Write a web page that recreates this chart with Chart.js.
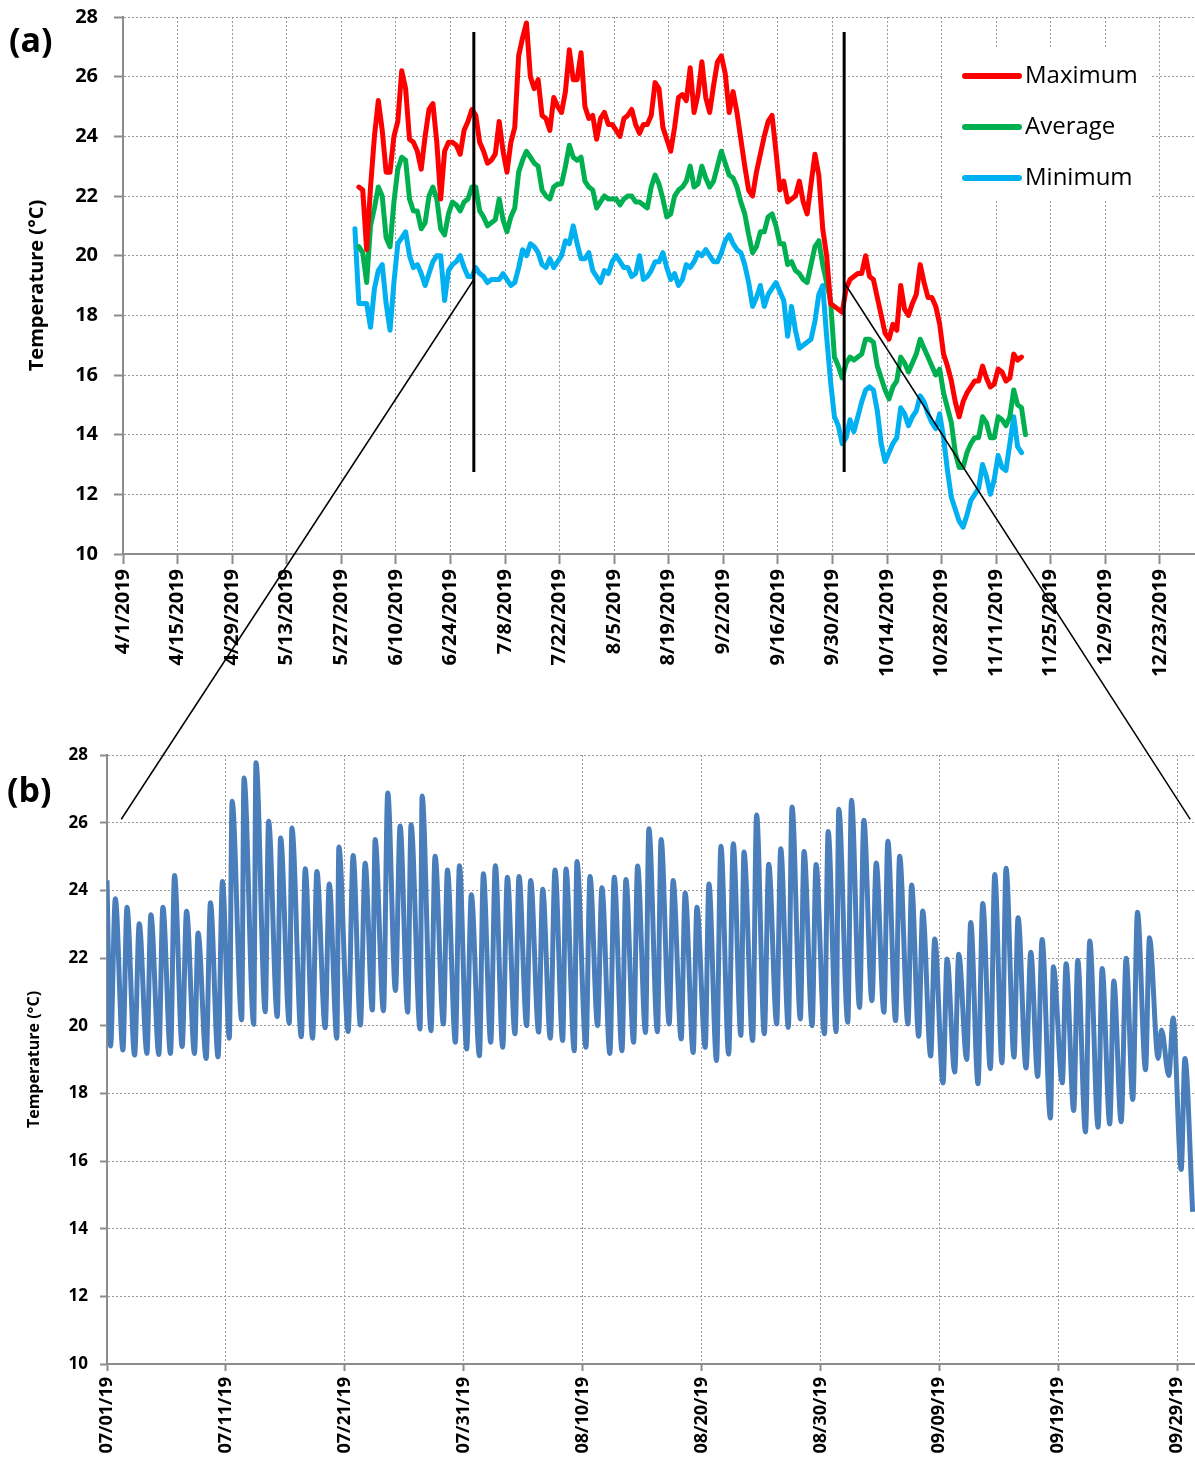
<!DOCTYPE html>
<html>
<head>
<meta charset="utf-8">
<title>Temperature</title>
<script src="https://cdn.jsdelivr.net/npm/chart.js@4.4.1/dist/chart.umd.min.js"></script>
<style>
  html, body { margin: 0; padding: 0; background: #fff; }
  #wrap { position: relative; width: 1195px; height: 1463px; }
  #chartA { position: absolute; left: 0; top: 0; }
  #chartB { position: absolute; left: 0; top: 720px; }
  #overlay { position: absolute; left: 0; top: 0; pointer-events: none; }
</style>
</head>
<body>
<div id="wrap">
  <canvas id="chartA" width="1195" height="720"></canvas>
  <canvas id="chartB" width="1195" height="743"></canvas>
  <canvas id="overlay" width="1195" height="1463"></canvas>
</div>
<script>
// Daily water temperature, one value per day starting at the given date
var maxFirstDay = '5/31/2019';
var dailyMax = [
  22.3, 22.2, 20.2, 22.3, 24.0, 25.2, 24.2, 22.8, 22.8, 24.0,
  24.5, 26.2, 25.6, 23.9, 23.8, 23.5, 22.9, 24.0, 24.9, 25.1,
  23.8, 21.9, 23.5, 23.8, 23.8, 23.7, 23.4, 24.2, 24.5, 24.9,
  24.7, 23.8, 23.5, 23.1, 23.2, 23.4, 24.5, 23.5, 22.8, 23.8,
  24.3, 26.7, 27.3, 27.8, 26.0, 25.6, 25.9, 24.7, 24.6, 24.2,
  25.3, 25.0, 24.8, 25.5, 26.9, 25.9, 25.9, 26.8, 25.0, 24.6,
  24.7, 23.9, 24.6, 24.8, 24.4, 24.4, 24.2, 24.0, 24.6, 24.7,
  24.9, 24.4, 24.1, 24.4, 24.4, 24.7, 25.8, 25.6, 24.3, 23.9,
  23.5, 24.3, 25.3, 25.4, 25.2, 26.3, 24.8, 25.4, 26.5, 25.3,
  24.8, 25.7, 26.5, 26.7, 26.1, 24.8, 25.5, 24.8, 23.9, 23.0,
  22.2, 22.0, 22.8, 23.4, 24.0, 24.5, 24.7, 23.5, 22.2, 22.5,
  21.8, 21.9, 22.0, 22.5, 21.8, 21.4, 22.4, 23.4, 22.7, 20.9,
  20.0, 18.4, 18.3, 18.2, 18.1, 18.9, 19.2, 19.3, 19.4, 19.4,
  20.0, 19.3, 19.2, 18.6, 18.0, 17.4, 17.2, 17.7, 17.5, 19.0,
  18.2, 18.0, 18.4, 18.7, 19.7, 19.1, 18.6, 18.6, 18.3, 17.7,
  16.7, 16.3, 15.8, 15.1, 14.6, 15.1, 15.4, 15.6, 15.8, 15.8,
  16.3, 15.9, 15.6, 15.7, 16.2, 16.1, 15.8, 15.9, 16.7, 16.5, 16.6
];

var avgFirstDay = '5/31/2019';
var dailyAvg = [
  20.3, 20.1, 19.1, 21.0, 21.6, 22.3, 22.0, 20.6, 20.3, 21.8,
  22.9, 23.3, 23.2, 21.9, 21.5, 21.5, 20.9, 21.1, 22.0, 22.3,
  21.9, 20.9, 20.7, 21.4, 21.8, 21.7, 21.5, 21.8, 21.9, 22.3,
  22.3, 21.5, 21.3, 21.0, 21.1, 21.2, 21.9, 21.2, 20.8, 21.3,
  21.6, 22.8, 23.2, 23.5, 23.3, 23.1, 23.0, 22.2, 22.0, 21.9,
  22.3, 22.4, 22.4, 23.0, 23.7, 23.3, 23.2, 23.3, 22.5, 22.3,
  22.2, 21.6, 21.8, 22.0, 21.9, 21.9, 21.9, 21.7, 21.9, 22.0,
  22.0, 21.8, 21.8, 21.7, 21.6, 22.3, 22.7, 22.4, 21.9, 21.3,
  21.4, 22.0, 22.2, 22.3, 22.5, 23.0, 22.3, 22.4, 23.0, 22.6,
  22.3, 22.5, 23.0, 23.5, 23.1, 22.7, 22.6, 22.3, 21.8, 21.4,
  20.7, 20.1, 20.3, 20.8, 20.8, 21.3, 21.4, 21.0, 20.4, 20.4,
  19.7, 19.8, 19.5, 19.4, 19.2, 19.1, 19.7, 20.3, 20.5, 19.7,
  19.1, 18.5, 16.6, 16.3, 15.9, 16.4, 16.6, 16.5, 16.6, 16.7,
  17.2, 17.2, 17.1, 16.3, 15.9, 15.5, 15.2, 15.6, 15.8, 16.6,
  16.4, 16.1, 16.4, 16.7, 17.2, 16.9, 16.6, 16.3, 16.0, 16.2,
  15.4, 14.9, 14.4, 13.4, 12.9, 12.9, 13.4, 13.7, 13.9, 13.9,
  14.6, 14.4, 13.9, 13.9, 14.6, 14.5, 14.3, 14.6, 15.5, 15.0, 14.9, 14.0
];

var minFirstDay = '5/30/2019';
var dailyMin = [
  20.9,
  18.4, 18.4, 18.4, 17.6, 18.9, 19.5, 19.7, 18.4, 17.5, 19.1,
  20.4, 20.6, 20.8, 20.0, 19.6, 19.7, 19.4, 19.0, 19.4, 19.8,
  20.0, 20.0, 18.5, 19.5, 19.7, 19.8, 20.0, 19.6, 19.3, 19.3,
  19.6, 19.4, 19.3, 19.1, 19.2, 19.2, 19.2, 19.4, 19.2, 19.0,
  19.1, 19.6, 20.2, 20.0, 20.4, 20.3, 20.1, 19.7, 19.6, 19.9,
  19.6, 19.8, 20.0, 20.5, 20.4, 21.0, 20.4, 19.9, 19.9, 20.1,
  19.5, 19.3, 19.1, 19.5, 19.4, 19.8, 20.0, 19.8, 19.6, 19.6,
  19.3, 19.4, 20.0, 19.2, 19.3, 19.5, 19.8, 19.8, 20.1, 19.6,
  19.2, 19.4, 19.0, 19.2, 19.7, 19.6, 19.8, 20.1, 20.0, 20.2,
  20.0, 19.8, 19.8, 20.1, 20.5, 20.7, 20.4, 20.2, 20.1, 19.7,
  19.1, 18.3, 18.6, 19.0, 18.3, 18.7, 18.9, 19.1, 18.8, 18.5,
  17.3, 18.3, 17.5, 16.9, 17.0, 17.1, 17.2, 17.8, 18.7, 19.0,
  17.3, 15.8, 14.6, 14.3, 13.7, 13.9, 14.5, 14.1, 14.6, 15.1,
  15.5, 15.6, 15.5, 14.8, 13.7, 13.1, 13.4, 13.7, 13.9, 14.9,
  14.7, 14.3, 14.6, 14.8, 15.3, 15.1, 14.7, 14.4, 14.2, 14.7,
  13.9, 12.8, 11.9, 11.5, 11.1, 10.9, 11.3, 11.8, 12.0, 12.2,
  13.0, 12.6, 12.0, 12.5, 13.3, 12.9, 12.8, 13.7, 14.6, 13.6, 13.4
];

// Hourly record, July to September: [days since 07/01/19, temperature]
var hourlyReadings = [
  [0.0, 24.3], [0.3, 19.4], [0.7, 23.75], [1.34, 19.28], [1.68, 23.5], [2.32, 19.13],
  [2.71, 23.01], [3.36, 19.18], [3.69, 23.28], [4.36, 19.15], [4.7, 23.5], [5.34, 19.18],
  [5.68, 24.44], [6.32, 19.38], [6.69, 23.38], [7.36, 19.18], [7.66, 22.74], [8.34, 19.03],
  [8.7, 23.63], [9.34, 19.08], [9.71, 24.26], [10.29, 19.63], [10.52, 26.63], [11.33, 20.17],
  [11.52, 27.32], [12.34, 20.04], [12.53, 27.77], [13.31, 20.41], [13.59, 26.04], [14.32, 20.27],
  [14.6, 25.55], [15.33, 20.07], [15.55, 25.84], [16.34, 19.67], [16.67, 24.64], [17.29, 19.63],
  [17.65, 24.56], [18.35, 19.94], [18.69, 24.19], [19.33, 19.63], [19.5, 25.28], [20.28, 19.83],
  [20.7, 25.03], [21.31, 20.02], [21.71, 24.8], [22.32, 20.46], [22.55, 25.5], [23.25, 20.44],
  [23.61, 26.88], [24.26, 21.04], [24.65, 25.9], [25.29, 20.4], [25.57, 25.94], [26.33, 19.9],
  [26.5, 26.79], [27.25, 19.85], [27.59, 25.01], [28.29, 20.05], [28.63, 24.6], [29.3, 19.51],
  [29.64, 24.73], [30.25, 19.31], [30.64, 23.87], [31.32, 19.11], [31.65, 24.49], [32.27, 19.51],
  [32.66, 24.73], [33.28, 19.36], [33.67, 24.39], [34.31, 19.76], [34.65, 24.41], [35.29, 20.0],
  [35.63, 24.29], [36.3, 19.81], [36.64, 24.03], [37.28, 19.63], [37.68, 24.6], [38.32, 19.56],
  [38.6, 24.63], [39.3, 19.26], [39.52, 24.85], [40.28, 19.36], [40.62, 24.41], [41.26, 20.0],
  [41.62, 24.08], [42.29, 19.18], [42.66, 24.39], [43.31, 19.26], [43.64, 24.32], [44.29, 19.51],
  [44.62, 24.72], [45.29, 19.8], [45.57, 25.82], [46.29, 19.82], [46.6, 25.5], [47.28, 20.05],
  [47.61, 24.29], [48.29, 19.61], [48.62, 23.92], [49.3, 19.21], [49.61, 23.5], [50.31, 19.36],
  [50.62, 24.19], [51.26, 18.97], [51.63, 25.3], [52.28, 19.16], [52.67, 25.38], [53.31, 19.71],
  [53.57, 25.13], [54.3, 19.56], [54.63, 26.23], [55.28, 19.76], [55.65, 24.77], [56.32, 20.05],
  [56.66, 25.23], [57.3, 19.95], [57.61, 26.46], [58.31, 20.2], [58.62, 25.15], [59.3, 20.0],
  [59.63, 24.76], [60.34, 19.76], [60.65, 25.74], [61.32, 19.82], [61.54, 26.4], [62.3, 20.1],
  [62.61, 26.66], [63.29, 20.54], [63.65, 26.07], [64.33, 20.74], [64.69, 24.81], [65.34, 20.4],
  [65.67, 25.45], [66.32, 20.15], [66.66, 25.01], [67.36, 20.05], [67.67, 24.16], [68.26, 19.69],
  [68.6, 23.39], [69.27, 19.1], [69.61, 22.56], [70.31, 18.31], [70.65, 21.97], [71.29, 18.63],
  [71.63, 22.11], [72.3, 19.0], [72.64, 23.05], [73.25, 18.28], [73.65, 23.61], [74.29, 18.73],
  [74.66, 24.47], [75.27, 18.9], [75.61, 24.65], [76.28, 19.07], [76.62, 23.19], [77.29, 18.75],
  [77.69, 22.17], [78.27, 18.5], [78.64, 22.55], [79.34, 17.27], [79.59, 21.74], [80.34, 18.31],
  [80.66, 21.83], [81.3, 17.49], [81.64, 21.93], [82.29, 16.86], [82.65, 22.5], [83.35, 17.0],
  [83.69, 21.69], [84.33, 17.1], [84.67, 21.32], [85.29, 17.16], [85.71, 21.99], [86.27, 17.82],
  [86.66, 23.35], [87.34, 18.7], [87.67, 22.6], [88.4, 19.03], [88.68, 19.87], [89.3, 18.53],
  [89.66, 20.23], [90.34, 15.75], [90.65, 19.03], [91.3, 14.5]
];

var seriesNames = ['Maximum', 'Average', 'Minimum'];
var seriesColors = ['#ff0000', '#00b050', '#00b0f0'];

// period covered by the hourly panel, marked on the daily panel
var windowDates = ['6/30/2019', '10/3/2019'];

var seasonStart = new Date(2019, 3, 1);

function dayOffset(str) {
  var p = str.split('/').map(Number);
  return Math.round((new Date(p[2], p[0] - 1, p[1]) - seasonStart) / 86400000);
}

function dailyPoints(firstDay, values) {
  var start = dayOffset(firstDay);
  return values.map(function(v, i) { return { x: start + i + 0.5, y: v }; });
}

function pad2(n) { return (n < 10 ? '0' : '') + n; }

// keep the plot area flush with the canvas edges
function noEdgePadding(s) {
  s.paddingLeft = 0; s.paddingRight = 0; s.paddingTop = 0; s.paddingBottom = 0;
}

var gridGray = '#9b9b9b';
var axisGray = '#8c8c8c';

var panelA = {
  id: 'panelA',
  afterDatasetsDraw: function(chart) {
    var ctx = chart.ctx, x = chart.scales.x, y = chart.scales.y;
    ctx.save();

    // legend box
    ctx.fillStyle = '#fff';
    ctx.fillRect(943, 48, 207, 152);
    ctx.font = '24px "Open Sans"';
    ctx.textBaseline = 'middle';
    ctx.textAlign = 'left';
    seriesNames.forEach(function(name, i) {
      var ly = 76 + i * 51;
      ctx.strokeStyle = seriesColors[i];
      ctx.lineWidth = 6;
      ctx.lineCap = 'round';
      ctx.beginPath();
      ctx.moveTo(965, ly);
      ctx.lineTo(1019, ly);
      ctx.stroke();
      ctx.fillStyle = '#000';
      ctx.fillText(name, 1025, ly);
    });

    // vertical markers at both ends of the hourly window
    ctx.strokeStyle = '#000';
    ctx.lineWidth = 3;
    ctx.lineCap = 'butt';
    windowDates.forEach(function(d) {
      var px = x.getPixelForValue(dayOffset(d));
      ctx.beginPath();
      ctx.moveTo(px, y.getPixelForValue(27.5));
      ctx.lineTo(px, y.getPixelForValue(12.75));
      ctx.stroke();
    });

    ctx.fillStyle = '#000';
    ctx.font = 'bold 34px "Open Sans"';
    ctx.textBaseline = 'alphabetic';
    ctx.fillText('(a)', 9, 52);
    ctx.restore();
  }
};

var panelB = {
  id: 'panelB',
  afterDraw: function(chart) {
    var ctx = chart.ctx;
    ctx.save();
    ctx.fillStyle = '#000';
    ctx.font = 'bold 34px "Open Sans"';
    ctx.fillText('(b)', 7, 82);
    ctx.restore();
  }
};

var chartA = new Chart(document.getElementById('chartA'), {
  type: 'line',
  data: {
    datasets: [
      { label: seriesNames[0], data: dailyPoints(maxFirstDay, dailyMax), borderColor: seriesColors[0] },
      { label: seriesNames[1], data: dailyPoints(avgFirstDay, dailyAvg), borderColor: seriesColors[1] },
      { label: seriesNames[2], data: dailyPoints(minFirstDay, dailyMin), borderColor: seriesColors[2] }
    ]
  },
  options: {
    responsive: false,
    animation: false,
    events: [],
    elements: {
      line: { borderWidth: 5, tension: 0, borderJoinStyle: 'round', borderCapStyle: 'round' },
      point: { radius: 0 }
    },
    layout: { padding: { top: 17, right: 0, left: 0, bottom: 0 } },
    plugins: { legend: { display: false }, tooltip: { enabled: false } },
    scales: {
      x: {
        type: 'linear', min: 0, max: 275,
        afterFit: function(s) { s.height = 166; noEdgePadding(s); },
        ticks: {
          stepSize: 14, includeBounds: false, autoSkip: false,
          minRotation: 90, maxRotation: 90, padding: 5, color: '#000',
          font: { family: 'Open Sans', size: 20, weight: 'bold' },
          callback: function(v) {
            var dt = new Date(2019, 3, 1 + v);
            return (dt.getMonth() + 1) + '/' + dt.getDate() + '/' + dt.getFullYear();
          }
        },
        grid: { color: gridGray, lineWidth: 1, tickLength: 10, tickColor: axisGray, tickWidth: 2 },
        border: { color: axisGray, width: 2, dash: [2, 2] }
      },
      y: {
        min: 10, max: 28,
        afterFit: function(s) { s.width = 123; noEdgePadding(s); },
        ticks: {
          stepSize: 2, padding: 16, color: '#000',
          font: { family: 'Open Sans', size: 20, weight: 'bold' }
        },
        title: {
          display: true, text: 'Temperature (°C)', color: '#000',
          font: { family: 'Open Sans', size: 20, weight: 'bold' },
          padding: { top: 25, bottom: 0 }
        },
        grid: { color: gridGray, lineWidth: 1, tickLength: 9, tickColor: axisGray, tickWidth: 2 },
        border: { color: axisGray, width: 2, dash: [2, 2] }
      }
    }
  },
  plugins: [panelA]
});

var chartB = new Chart(document.getElementById('chartB'), {
  type: 'line',
  data: {
    datasets: [{
      label: 'Hourly',
      data: hourlyReadings.map(function(r) { return { x: r[0], y: r[1] }; }),
      borderColor: '#4a7ebb',
      borderWidth: 5,
      cubicInterpolationMode: 'monotone',
      pointRadius: 0
    }]
  },
  options: {
    responsive: false,
    animation: false,
    events: [],
    layout: { padding: { top: 35, right: 0, left: 0, bottom: 0 } },
    plugins: { legend: { display: false }, tooltip: { enabled: false } },
    scales: {
      x: {
        type: 'linear', min: 0, max: 91.5,
        afterFit: function(s) { s.height = 99; noEdgePadding(s); },
        ticks: {
          stepSize: 10, includeBounds: false, autoSkip: false,
          minRotation: 90, maxRotation: 90, padding: 6, color: '#000',
          font: { family: 'Open Sans', size: 18, weight: 'bold' },
          callback: function(v) {
            var dt = new Date(2019, 6, 1 + v);
            return pad2(dt.getMonth() + 1) + '/' + pad2(dt.getDate()) + '/19';
          }
        },
        grid: { color: gridGray, lineWidth: 1, tickLength: 7, tickColor: axisGray, tickWidth: 2 },
        border: { color: axisGray, width: 2, dash: [2, 2] }
      },
      y: {
        min: 10, max: 28,
        afterFit: function(s) { s.width = 107; noEdgePadding(s); },
        ticks: {
          stepSize: 2, padding: 12, color: '#000',
          font: { family: 'Open Sans', size: 17, weight: 'bold' }
        },
        title: {
          display: true, text: 'Temperature (°C)', color: '#000',
          font: { family: 'Open Sans', size: 16, weight: 'bold' },
          padding: { top: 25, bottom: 0 }
        },
        grid: { color: gridGray, lineWidth: 1, tickLength: 7, tickColor: axisGray, tickWidth: 2 },
        border: { color: axisGray, width: 2, dash: [2, 2] }
      }
    }
  },
  plugins: [panelB]
});

// thin connector lines from the daily panel down to the hourly panel
(function drawConnectors() {
  var ctx = document.getElementById('overlay').getContext('2d');
  var ax = chartA.scales.x, ay = chartA.scales.y;
  var bx = chartB.scales.x, by = chartB.scales.y;
  var offsetB = 720;
  var links = [
    { from: [dayOffset(windowDates[0]), 19.2], to: [1.2, 26.1] },
    { from: [dayOffset(windowDates[1]), 19.1], to: [91.1, 26.1] }
  ];
  ctx.strokeStyle = '#000';
  ctx.lineWidth = 1.5;
  links.forEach(function(l) {
    ctx.beginPath();
    ctx.moveTo(ax.getPixelForValue(l.from[0]), ay.getPixelForValue(l.from[1]));
    ctx.lineTo(bx.getPixelForValue(l.to[0]), by.getPixelForValue(l.to[1]) + offsetB);
    ctx.stroke();
  });
})();
</script>
</body>
</html>
